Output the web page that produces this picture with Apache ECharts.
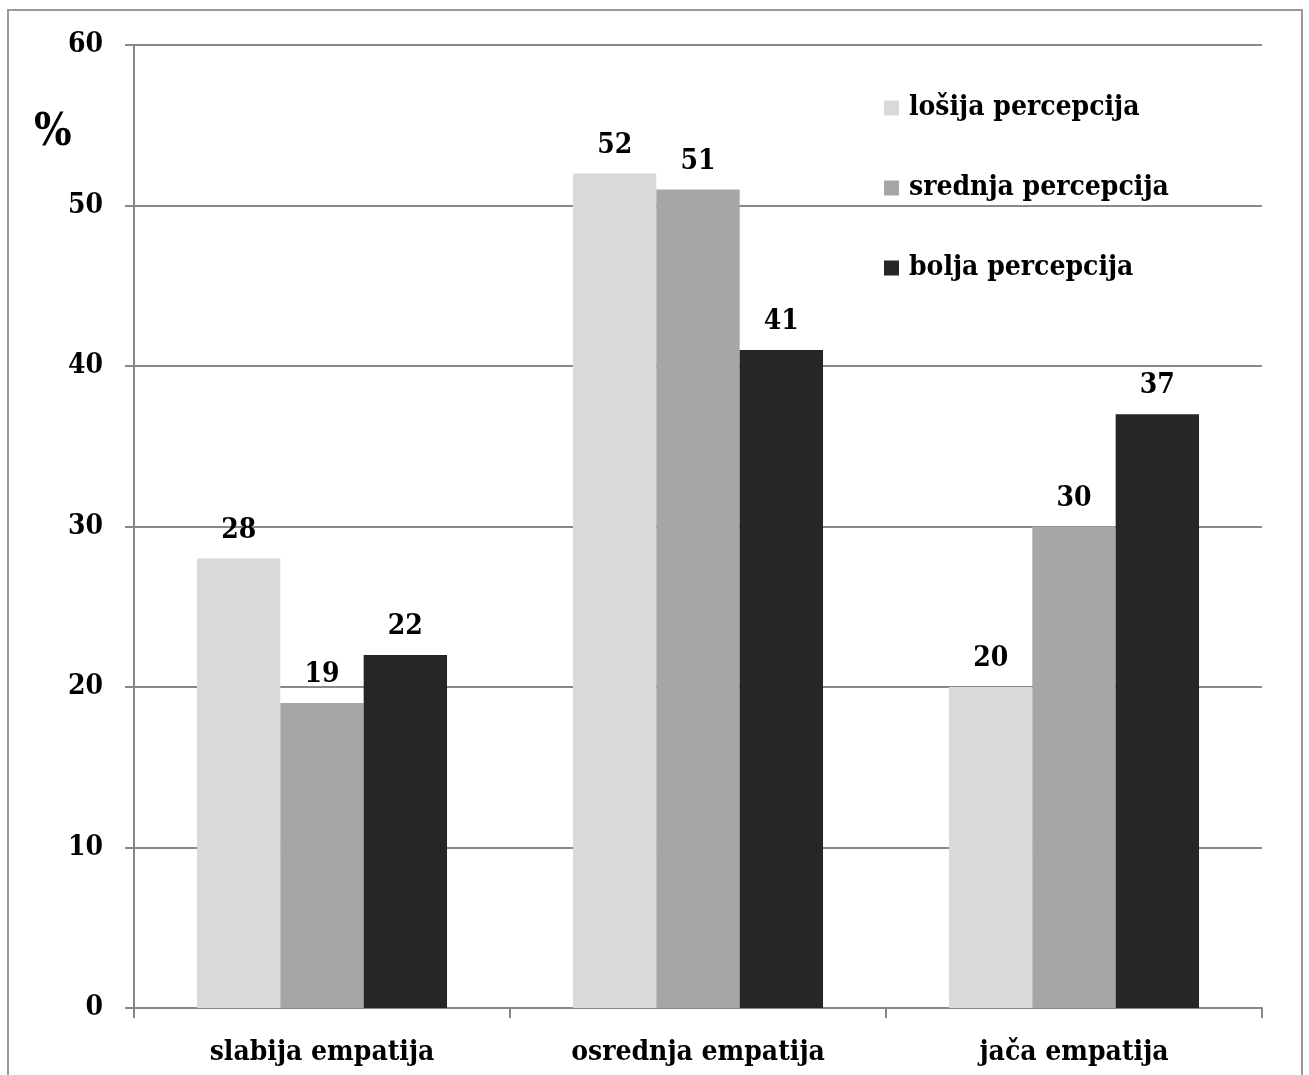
<!DOCTYPE html>
<html><head><meta charset="utf-8">
<script src="https://cdn.jsdelivr.net/npm/echarts@6/dist/echarts.min.js"></script>
<style>html,body{margin:0;padding:0;background:#fff}#c{width:1309px;height:1075px}</style>
</head><body><div id="c"></div>
<script>
const categories = ['slabija empatija', 'osrednja empatija', 'jača empatija'];
const seriesNames = ['lošija percepcija', 'srednja percepcija', 'bolja percepcija'];
const losija = [28, 52, 20];
const srednja = [19, 51, 30];
const bolja = [22, 41, 37];
const colors = ['#d9d9d9', '#a6a6a6', '#262626'];
const yMin = 0, yMax = 60, yStep = 10;

const FONT = '"DejaVu Serif Condensed", "DejaVu Serif", serif';
const chart = echarts.init(document.getElementById('c'));
const values = [losija, srednja, bolja];
const series = values.map((v, i) => ({
  name: seriesNames[i], type: 'bar', data: v, barGap: '0%', barCategoryGap: '33.5%',
  itemStyle: { color: colors[i] },
  label: { show: true, position: 'top', distance: 14, color: '#000', fontFamily: FONT, fontWeight: 'bold', fontSize: 28 }
}));
chart.setOption({
  animation: false,
  grid: { left: 134, right: 47, top: 45, bottom: 67 },
  legend: {
    orient: 'vertical', left: 879, top: 89, itemGap: 52, itemWidth: 15, itemHeight: 15,
    icon: 'rect', data: seriesNames,
    textStyle: { fontFamily: FONT, fontWeight: 'bold', fontSize: 28, color: '#000', padding: [0, 0, 0, 5] }
  },
  graphic: [
    { type: 'rect', shape: { x: 8, y: 10, width: 1294, height: 1075 }, style: { fill: 'none', stroke: '#999', lineWidth: 2 }, silent: true },
    { type: 'text', left: 34, top: 112, style: { text: '%', fontFamily: FONT, fontWeight: 'bold', fontSize: 44, fill: '#000' } }
  ],
  xAxis: {
    type: 'category', data: categories,
    axisLine: { lineStyle: { color: '#888', width: 2 } },
    axisTick: { show: true, length: 10, lineStyle: { color: '#888', width: 2 } },
    axisLabel: { margin: 31, color: '#000', fontFamily: FONT, fontWeight: 'bold', fontSize: 28 }
  },
  yAxis: {
    type: 'value', min: yMin, max: yMax, interval: yStep,
    axisLine: { show: true, lineStyle: { color: '#888', width: 2 } },
    axisTick: { show: true, length: 9, lineStyle: { color: '#888', width: 2 } },
    splitLine: { lineStyle: { color: '#888', width: 2 } },
    axisLabel: { margin: 31, color: '#000', fontFamily: FONT, fontWeight: 'bold', fontSize: 28 }
  },
  series
});
</script></body></html>
